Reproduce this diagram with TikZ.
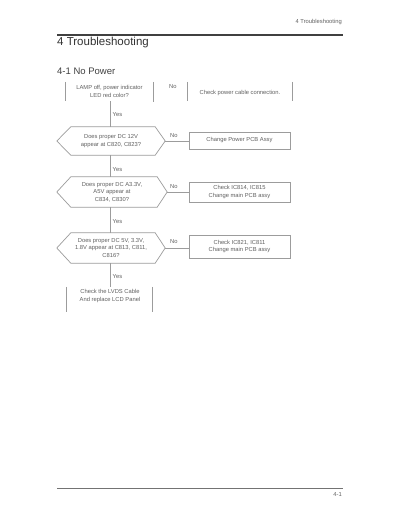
\documentclass[tikz,border=0pt]{standalone}
\usepackage{fontspec}
\setmainfont{Liberation Sans}
\definecolor{linegray}{HTML}{9C9C9C}
\definecolor{txtgray}{HTML}{606060}
\begin{document}
\begin{tikzpicture}[x=1pt,y=-1pt]
\tikzset{
  every node/.style={inner sep=0pt},
  small/.style={font=\fontsize{5.8}{7.6}\selectfont, text=txtgray, align=center},
  ln/.style={draw=linegray, line width=0.7pt},
  hexnode/.style={small, minimum width=#1},
  boxnode/.style={small, draw=linegray, line width=0.7pt, minimum width=101pt},
  lbl/.style={small, anchor=west},
}
\useasboundingbox (0,0) rectangle (400,518);
\fill[white] (0,0) rectangle (400,518);

% header
\node[small, anchor=east] (hdr) at (342,22) {4 Troubleshooting};
\coordinate (rl) at (57,35);
\coordinate (rr) at (343,35);
\draw[line width=1.6pt, black!75] (rl) -- (rr);
\node[anchor=west, font=\fontsize{11.5}{13}\selectfont, text=black!80] (title) at (57,43) {4 Troubleshooting};
\node[anchor=west, font=\fontsize{9.5}{11}\selectfont, text=black!75] (sec) at (57,71) {4-1 No Power};

% first row
\node[small, minimum width=87pt, minimum height=19pt] (q0) at (109.5,91.5) {LAMP off, power indicator\\LED red color?};
\draw[ln] (q0.north west) -- (q0.south west);
\draw[ln] (q0.north east) -- ([yshift=-1pt]q0.south east);
\node[small, minimum width=104pt, minimum height=19pt] (c0) at (240,93) {Check power cable connection.};
\draw[ln] ([yshift=1.5pt]c0.north west) -- ([yshift=1.5pt]c0.south west);
\draw[ln] ([yshift=1.5pt]c0.north east) -- ([yshift=1.5pt]c0.south east);
\node[lbl] (n0) at (169,87) {No};

% hexagons
\node[small, minimum width=108pt, minimum height=28pt] (h1) at (111,141) {Does proper DC 12V\\appear at C820, C823?};
\node[small, minimum width=110pt, minimum height=30pt] (h2) at (112,192) {Does proper DC A3.3V,\\A5V appear at\\C834, C830?};
\node[small, minimum width=108pt, minimum height=30pt] (h3) at (111,248) {Does proper DC 5V, 3.3V,\\1.8V appear at C813, C811,\\C816?};
\foreach \h in {h1,h2,h3}{
  \draw[ln] (\h.west) -- ([xshift=14pt]\h.north west) -- ([xshift=-10pt]\h.north east)
    -- (\h.east) -- ([xshift=-10pt]\h.south east) -- ([xshift=14pt]\h.south west) -- cycle;
}

% right boxes
\node[boxnode, minimum height=17pt] (b1) at (239.5,140.5) {Change Power PCB Assy};
\node[boxnode, minimum height=20pt] (b2) at (239.5,192) {Check IC814, IC815\\Change main PCB assy};
\node[boxnode, minimum height=23pt] (b3) at (239.5,246.5) {Check IC821, IC811\\Change main PCB assy};

\draw[ln] (h1.east) -- (h1.east -| b1.west);
\draw[ln] (h2.east) -- (h2.east -| b2.west);
\draw[ln] (h3.east) -- (h3.east -| b3.west);
\node[lbl] (n1) at (170,136) {No};
\node[lbl] (n2) at (170,187) {No};
\node[lbl] (n3) at (170,242) {No};

% final box
\node[minimum width=85pt, minimum height=25pt] (f) at (109.5,299.5) {};
\node[small] (ft) at (110,296) {Check the LVDS Cable\\And replace LCD Panel};
\draw[ln] (f.north west) -- (f.south west);
\draw[ln] (f.north east) -- (f.south east);

% verticals
\draw[ln] ([xshift=0.5pt]q0.south) -- ([xshift=0.5pt]q0.south |- h1.north);
\draw[ln] ([xshift=0.5pt]q0.south |- h1.south) -- ([xshift=0.5pt]q0.south |- h2.north);
\draw[ln] ([xshift=0.5pt]q0.south |- h2.south) -- ([xshift=0.5pt]q0.south |- h3.north);
\draw[ln] ([xshift=0.5pt]q0.south |- h3.south) -- ([xshift=0.5pt]q0.south |- f.north);
\node[lbl] (y0) at (112.5,115) {Yes};
\node[lbl] (y1) at (112.5,170) {Yes};
\node[lbl] (y2) at (112.5,222) {Yes};
\node[lbl] (y3) at (112.5,277) {Yes};

% footer
\coordinate (fl) at (57,488);
\coordinate (fr) at (343,488);
\draw[line width=0.9pt, black!55] (fl) -- (fr);
\node[small, anchor=east] (pg) at (342,494) {4-1};
\end{tikzpicture}
\end{document}
